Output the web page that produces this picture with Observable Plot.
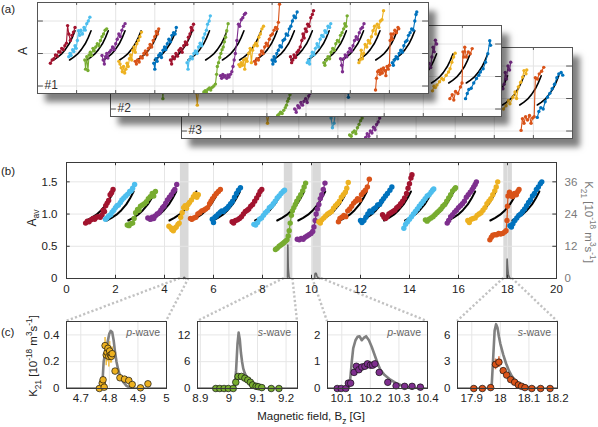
<!DOCTYPE html>
<html><head><meta charset="utf-8">
<script src="https://cdn.jsdelivr.net/npm/d3@7"></script>
<script src="https://cdn.jsdelivr.net/npm/@observablehq/plot@0.6"></script>
<style>
body{margin:0;background:#fff;}
#page{position:relative;width:598px;height:427px;overflow:hidden;font-family:"Liberation Sans",Arial,sans-serif;color:#222;}
.card{position:absolute;background:#fff;box-shadow:8px 9px 6px rgba(0,0,0,0.5);}
.card svg,.pl svg{display:block;overflow:visible;}
.pl{position:absolute;}
.lbl{position:absolute;white-space:nowrap;font-size:11.5px;line-height:1;}
.rot{transform:translate(-50%,-50%) rotate(-90deg);}
.rot90{transform:translate(-50%,-50%) rotate(90deg);}
sub,sup{font-size:0.72em;line-height:0;}
.wave{position:absolute;font-size:10.5px;color:#666;white-space:nowrap;transform:translate(-100%,0);}
</style></head><body><div id="page"></div>
<script>
// ---------- DATA ----------
const colorOrder = ["darkred","lightblue","green","purple","yellow","orange","blue"];
const colorHex = {darkred:"#A2142F", lightblue:"#4DBEEE", green:"#77AC30", purple:"#7E2F8E", yellow:"#EDB120", orange:"#D95319", blue:"#0072BD"};
const xTicks = [0,2,4,6,8,10,12,14,16,18,20];
const aTicks = [0.5,1.0,1.5];
const kTickLabels = [0,12,24,36];
const aTickValues = [0,0.5,1.0,1.5];

// theory curve template (offset in B, A value)
const blackDx = [0,0.2,0.4,0.6,0.8,0.95,1.1];
const blackA  = [0.9,0.94,0.99,1.06,1.15,1.24,1.35];
const blackStarts = [0.82,1.64,2.52,3.38,4.2,5.1,5.98,6.82,7.7,8.6,9.46,10.34,11.16,12.04,12.96,13.82,14.7,15.58,16.42,17.3,18.2];

// (b) averaged data, 21 segments
const bSegments = [
[[0.78,0.86],[0.85,0.89],[0.92,0.88],[1.0,0.91],[1.08,0.93],[1.15,0.92],[1.22,0.95],[1.3,0.96],[1.38,0.95],[1.45,0.99],[1.5,1.06],[1.55,1.04],[1.6,1.13],[1.66,1.17],[1.72,1.21],[1.78,1.3],[1.84,1.33],[1.9,1.38]],
[[1.59,0.92],[1.65,0.94],[1.72,0.97],[1.8,0.99],[1.86,1.03],[1.93,1.06],[2.0,1.1],[2.06,1.13],[2.12,1.14],[2.2,1.18],[2.26,1.22],[2.34,1.25],[2.42,1.28],[2.5,1.31],[2.58,1.35],[2.64,1.36],[2.7,1.4],[2.78,1.46]],
[[2.48,0.83],[2.55,0.82],[2.62,0.85],[2.7,0.86],[2.76,0.93],[2.82,1.02],[2.9,1.07],[2.96,1.06],[3.02,1.12],[3.1,1.14],[3.18,1.16],[3.26,1.19],[3.34,1.24],[3.42,1.27],[3.5,1.32],[3.56,1.28],[3.63,1.35]],
[[3.32,0.94],[3.38,0.93],[3.44,0.92],[3.5,0.95],[3.56,0.93],[3.62,0.97],[3.7,1.0],[3.78,1.02],[3.85,1.06],[3.92,1.1],[3.98,1.12],[4.05,1.17],[4.12,1.22],[4.2,1.26],[4.28,1.3],[4.36,1.35],[4.42,1.38],[4.5,1.46]],
[[4.18,0.81],[4.25,0.79],[4.3,0.76],[4.36,0.74],[4.42,0.78],[4.48,0.8],[4.55,0.84],[4.6,0.86],[4.66,0.95],[4.72,1.02],[4.78,1.1],[4.84,1.13],[4.9,1.09],[4.96,1.15],[5.02,1.18],[5.1,1.22],[5.18,1.27],[5.25,1.31],[5.32,1.26],[5.38,1.3]],
[[5.06,0.93],[5.12,0.92],[5.2,0.94],[5.28,0.95],[5.36,1.0],[5.44,1.02],[5.52,1.05],[5.6,1.06],[5.68,1.08],[5.76,1.1],[5.84,1.16],[5.9,1.2],[5.96,1.24],[6.04,1.28],[6.12,1.32],[6.2,1.35],[6.28,1.38]],
[[5.95,0.92],[6.0,0.87],[6.06,0.95],[6.12,0.97],[6.2,1.0],[6.28,1.03],[6.34,1.05],[6.4,1.04],[6.48,1.07],[6.55,1.09],[6.62,1.12],[6.7,1.16],[6.78,1.2],[6.86,1.26],[6.94,1.32],[7.02,1.37],[7.1,1.41]],
[[6.76,0.88],[6.82,0.86],[6.9,0.9],[6.98,0.91],[7.06,0.93],[7.14,0.96],[7.22,1.0],[7.3,1.04],[7.38,1.06],[7.44,1.08],[7.52,1.12],[7.6,1.15],[7.68,1.2],[7.76,1.25],[7.84,1.3],[7.9,1.35],[7.97,1.38]],
[[7.65,0.84],[7.72,0.83],[7.8,0.87],[7.88,0.92],[7.96,0.94],[8.04,0.98],[8.12,1.02],[8.2,1.05],[8.28,1.1],[8.36,1.12],[8.44,1.16],[8.52,1.2],[8.6,1.25],[8.68,1.28],[8.76,1.32],[8.84,1.35],[8.9,1.37]],
[[8.53,0.45],[8.6,0.47],[8.68,0.5],[8.75,0.52],[8.82,0.54],[8.88,0.56],[8.94,0.58],[9.0,0.6],[9.05,0.66],[9.09,0.74],[9.13,0.86],[9.18,0.98],[9.22,1.05],[9.28,1.1],[9.34,1.15],[9.4,1.2],[9.48,1.25],[9.56,1.3],[9.64,1.36],[9.7,1.42],[9.76,1.48]],
[[9.42,0.61],[9.5,0.6],[9.58,0.62],[9.66,0.61],[9.74,0.64],[9.82,0.66],[9.9,0.68],[9.98,0.7],[10.05,0.73],[10.1,0.8],[10.15,0.9],[10.19,1.0],[10.24,1.08],[10.3,1.15],[10.36,1.24],[10.42,1.3],[10.48,1.38],[10.55,1.48]],
[[10.3,0.88],[10.36,0.86],[10.42,0.91],[10.5,0.94],[10.58,0.97],[10.66,1.0],[10.74,1.02],[10.82,1.04],[10.9,1.09],[10.98,1.13],[11.06,1.16],[11.14,1.2],[11.22,1.26],[11.3,1.3],[11.38,1.34],[11.44,1.4],[11.5,1.49]],
[[11.1,0.88],[11.16,0.93],[11.24,0.95],[11.32,0.98],[11.4,0.96],[11.48,1.05],[11.56,1.08],[11.64,1.12],[11.72,1.17],[11.8,1.2],[11.88,1.24],[11.96,1.22],[12.04,1.3],[12.12,1.34],[12.2,1.37],[12.28,1.42],[12.36,1.54]],
[[12.0,0.9],[12.06,0.87],[12.14,0.9],[12.22,0.95],[12.3,1.0],[12.38,1.05],[12.46,1.03],[12.54,1.08],[12.62,1.1],[12.7,1.14],[12.78,1.15],[12.86,1.2],[12.94,1.24],[13.02,1.28],[13.1,1.32],[13.2,1.37],[13.28,1.42]],
[[12.9,0.99],[12.96,0.95],[13.02,0.93],[13.08,0.96],[13.16,1.0],[13.24,1.02],[13.32,1.04],[13.4,1.06],[13.48,1.1],[13.56,1.12],[13.64,1.16],[13.72,1.2],[13.8,1.25],[13.88,1.32],[13.94,1.4],[14.0,1.47],[14.06,1.56],[14.1,1.61]],
[[13.77,0.78],[13.84,0.84],[13.92,0.88],[14.0,0.92],[14.08,0.96],[14.16,1.0],[14.24,1.04],[14.32,1.08],[14.4,1.12],[14.48,1.16],[14.56,1.2],[14.64,1.24],[14.72,1.28],[14.8,1.3],[14.88,1.34],[14.94,1.37],[14.99,1.39]],
[[14.65,0.91],[14.72,0.89],[14.8,0.92],[14.88,0.94],[14.96,0.96],[15.04,0.99],[15.12,1.02],[15.2,1.05],[15.28,1.08],[15.36,1.12],[15.44,1.15],[15.52,1.2],[15.6,1.25],[15.68,1.3],[15.76,1.36],[15.84,1.39],[15.88,1.41]],
[[15.54,0.86],[15.6,0.9],[15.68,0.96],[15.76,0.99],[15.84,1.03],[15.92,1.06],[16.0,1.1],[16.08,1.13],[16.16,1.16],[16.24,1.2],[16.32,1.26],[16.4,1.3],[16.48,1.34],[16.56,1.38],[16.62,1.42],[16.68,1.46],[16.73,1.5]],
[[16.38,0.9],[16.44,0.87],[16.52,0.92],[16.6,0.93],[16.68,0.94],[16.76,0.98],[16.84,1.0],[16.92,1.02],[17.0,1.06],[17.08,1.1],[17.16,1.16],[17.24,1.2],[17.32,1.24],[17.4,1.3],[17.48,1.36],[17.54,1.42],[17.6,1.5]],
[[17.28,0.6],[17.34,0.64],[17.4,0.67],[17.48,0.68],[17.56,0.68],[17.64,0.7],[17.72,0.69],[17.8,0.7],[17.88,0.72],[17.94,0.74],[17.98,0.9],[18.0,1.12],[18.02,1.28],[18.08,1.34],[18.14,1.3],[18.2,1.27],[18.28,1.32],[18.36,1.3],[18.42,1.35],[18.47,1.38]],
[[18.1,0.82],[18.16,0.8],[18.22,0.85],[18.3,0.9],[18.38,0.94],[18.46,0.98],[18.54,1.0],[18.62,1.04],[18.7,1.08],[18.78,1.13],[18.86,1.18],[18.94,1.22],[19.02,1.28],[19.1,1.32],[19.18,1.38],[19.26,1.42],[19.34,1.47],[19.4,1.5]]
];

// (a) card #1, 21 segments
const card1Segments = [
[[0.66,0.85],[0.75,0.9],[0.84,0.92],[0.92,0.98],[1.0,0.96],[1.08,1.03],[1.16,1.02],[1.24,1.08],[1.32,1.06],[1.4,1.12],[1.48,1.16],[1.54,1.43],[1.6,1.3],[1.68,1.2],[1.76,1.28],[1.84,1.33],[1.92,1.4]],
[[1.6,0.95],[1.66,1.0],[1.72,0.97],[1.8,1.06],[1.86,1.03],[1.92,1.12],[1.98,1.08],[2.04,1.2],[2.1,1.35],[2.16,1.28],[2.22,1.36],[2.3,1.3],[2.38,1.4],[2.44,1.36],[2.52,1.46],[2.6,1.5],[2.68,1.56]],
[[2.42,0.9],[2.46,0.76],[2.52,0.95],[2.58,0.74],[2.64,0.98],[2.7,1.02],[2.76,0.97],[2.84,1.08],[2.9,1.04],[2.98,1.1],[3.06,1.15],[3.14,1.12],[3.22,1.2],[3.3,1.26],[3.38,1.3],[3.46,1.36],[3.54,1.38]],
[[3.3,0.97],[3.36,0.9],[3.42,0.84],[3.48,0.95],[3.54,1.0],[3.6,0.93],[3.68,1.02],[3.76,1.05],[3.84,1.1],[3.92,1.06],[4.0,1.15],[4.08,1.22],[4.16,1.3],[4.24,1.26],[4.32,1.36],[4.4,1.42],[4.48,1.46]],
[[4.16,0.88],[4.22,0.84],[4.28,0.78],[4.34,0.72],[4.4,0.8],[4.46,0.7],[4.52,0.76],[4.58,0.85],[4.64,0.8],[4.7,0.92],[4.76,0.98],[4.82,0.9],[4.88,1.05],[4.94,1.1],[5.0,1.02],[5.08,1.15],[5.16,1.2],[5.24,1.26],[5.32,1.33]],
[[5.0,0.88],[5.06,0.84],[5.12,0.9],[5.2,0.87],[5.28,0.95],[5.36,0.93],[5.44,1.0],[5.52,1.04],[5.6,0.98],[5.68,1.08],[5.76,1.14],[5.84,1.1],[5.92,1.2],[6.0,1.26],[6.08,1.34],[6.14,1.3],[6.2,1.38]],
[[5.95,0.85],[6.0,0.76],[6.06,0.92],[6.12,0.88],[6.2,0.97],[6.28,1.0],[6.34,0.94],[6.42,1.05],[6.5,1.1],[6.56,1.06],[6.64,1.15],[6.72,1.22],[6.8,1.18],[6.88,1.28],[6.96,1.32],[7.04,1.3],[7.1,1.4]],
[[6.8,0.9],[6.86,0.84],[6.92,0.95],[7.0,0.92],[7.08,1.0],[7.16,0.96],[7.24,1.05],[7.32,1.08],[7.4,1.02],[7.48,1.12],[7.56,1.18],[7.64,1.14],[7.72,1.25],[7.8,1.3],[7.86,1.4],[7.92,1.36],[7.98,1.45]],
[[7.65,0.86],[7.7,0.76],[7.76,0.9],[7.84,0.95],[7.92,0.92],[8.0,1.0],[8.08,1.04],[8.16,1.0],[8.24,1.1],[8.32,1.16],[8.4,1.12],[8.48,1.24],[8.56,1.3],[8.64,1.36],[8.7,1.45],[8.78,1.5],[8.84,1.58]],
[[8.51,0.41],[8.58,0.43],[8.64,0.41],[8.72,0.45],[8.8,0.47],[8.86,0.44],[8.94,0.48],[9.02,0.5],[9.1,0.53],[9.16,0.68],[9.2,0.8],[9.26,0.86],[9.32,0.94],[9.38,1.0],[9.44,1.06],[9.5,1.1],[9.56,1.18],[9.62,1.25],[9.68,1.35],[9.75,1.46]],
[[9.36,0.66],[9.42,0.62],[9.48,0.68],[9.54,0.64],[9.6,0.66],[9.68,0.62],[9.74,0.67],[9.8,0.64],[9.87,0.68],[9.94,0.72],[10.0,0.8],[10.06,0.9],[10.12,1.0],[10.2,1.2],[10.28,1.45],[10.34,1.42],[10.42,1.52],[10.5,1.55],[10.58,1.6],[10.64,1.62]],
[[10.3,0.83],[10.36,0.8],[10.42,0.86],[10.48,0.82],[10.54,0.9],[10.6,0.76],[10.66,0.92],[10.72,0.88],[10.8,1.0],[10.88,1.08],[10.94,0.86],[11.0,1.05],[11.08,1.12],[11.16,1.16],[11.24,1.12],[11.32,1.25],[11.4,1.3],[11.48,1.38],[11.56,1.42]],
[[11.1,0.88],[11.16,0.84],[11.22,0.92],[11.3,0.9],[11.38,0.98],[11.46,1.04],[11.54,1.0],[11.62,1.1],[11.7,1.16],[11.78,1.12],[11.86,1.22],[11.94,1.28],[12.02,1.3],[12.1,1.36],[12.18,1.4],[12.26,1.38],[12.32,1.48],[12.38,1.76]],
[[12.0,0.9],[12.04,0.84],[12.1,0.95],[12.16,0.88],[12.24,1.0],[12.32,1.05],[12.4,1.12],[12.48,1.1],[12.56,1.2],[12.64,1.22],[12.72,1.3],[12.8,1.28],[12.88,1.38],[12.96,1.42],[13.04,1.5],[13.12,1.58],[13.2,1.55],[13.28,1.64]],
[[12.94,0.95],[13.0,0.86],[13.06,0.9],[13.12,0.98],[13.2,0.94],[13.28,1.02],[13.36,1.05],[13.44,1.1],[13.52,1.2],[13.58,1.3],[13.64,1.24],[13.7,1.38],[13.76,1.34],[13.82,1.45],[13.9,1.42],[13.98,1.55],[14.06,1.6],[14.12,1.66]],
[[13.8,0.86],[13.86,0.9],[13.92,0.84],[14.0,0.96],[14.06,1.02],[14.14,0.98],[14.22,1.08],[14.3,1.15],[14.38,1.1],[14.46,1.22],[14.54,1.28],[14.62,1.26],[14.7,1.35],[14.78,1.32],[14.86,1.42],[14.94,1.4],[15.0,1.46]],
[[14.65,0.86],[14.7,0.82],[14.78,0.9],[14.86,0.95],[14.94,0.92],[15.02,1.02],[15.1,1.08],[15.18,1.05],[15.26,1.15],[15.34,1.2],[15.42,1.18],[15.5,1.28],[15.58,1.32],[15.66,1.38],[15.72,1.46],[15.78,1.42],[15.84,1.58]],
[[15.5,0.92],[15.56,0.82],[15.6,0.72],[15.66,0.92],[15.74,0.98],[15.82,0.95],[15.9,1.02],[15.98,1.08],[16.06,1.04],[16.14,1.12],[16.22,1.2],[16.3,1.26],[16.38,1.22],[16.46,1.32],[16.54,1.38],[16.62,1.4],[16.7,1.46]],
[[16.44,0.86],[16.5,0.9],[16.56,1.05],[16.62,0.92],[16.68,1.0],[16.76,1.14],[16.84,1.1],[16.92,1.2],[17.0,1.16],[17.08,1.26],[17.16,1.35],[17.24,1.42],[17.3,1.3],[17.38,1.45],[17.46,1.4],[17.54,1.5],[17.62,1.52],[17.7,1.66]],
[[17.29,0.44],[17.34,0.62],[17.4,0.72],[17.46,0.74],[17.52,0.68],[17.58,0.76],[17.64,0.7],[17.7,0.78],[17.76,0.74],[17.82,0.66],[17.88,0.8],[17.94,0.76],[18.0,0.82],[18.04,1.2],[18.08,1.3],[18.14,1.22],[18.2,1.3],[18.28,1.36],[18.36,1.32],[18.44,1.4],[18.48,1.38]],
[[18.15,0.86],[18.2,0.82],[18.26,0.9],[18.34,0.95],[18.42,0.92],[18.5,1.0],[18.58,1.05],[18.66,1.02],[18.74,1.12],[18.82,1.18],[18.9,1.2],[18.98,1.28],[19.06,1.32],[19.14,1.38],[19.22,1.36],[19.3,1.5],[19.36,1.6],[19.4,1.64]]
];

// (a) card #2 (only the parts that show)
const card2Colors = ["green","yellow","green","purple","blue","purple","yellow","orange","blue"];
const card2Segments = [
[[2.5,0.95],[2.6,1.0],[2.68,0.66],[2.76,1.05],[2.9,1.1],[3.1,1.2],[3.3,1.3],[3.5,1.4]],
[[4.2,0.9],[4.3,0.85],[4.38,0.75],[4.44,0.56],[4.5,0.8],[4.6,0.9],[4.8,1.0],[5.0,1.1],[5.2,1.2],[5.4,1.35]],
[[8.55,0.4],[8.62,0.42],[8.7,0.45],[8.78,0.43],[8.86,0.48],[8.94,0.52],[9.0,0.56],[9.06,0.62],[9.12,0.66],[9.18,0.72],[9.26,0.9],[9.4,1.05],[9.6,1.25],[9.76,1.45]],
[[9.42,0.5],[9.5,0.45],[9.58,0.55],[9.66,0.52],[9.74,0.6],[9.82,0.56],[9.9,0.62],[9.98,0.66],[10.06,0.6],[10.14,0.7],[10.2,0.74],[10.26,0.95],[10.34,1.15],[10.46,1.35],[10.6,1.5]],
[[12.0,0.9],[12.1,0.85],[12.17,0.68],[12.24,0.95],[12.4,1.05],[12.6,1.15],[12.8,1.25],[13.0,1.35],[13.3,1.45]],
[[15.5,0.9],[15.7,1.0],[15.9,1.05],[16.1,1.1],[16.3,1.2],[16.38,1.14],[16.44,1.3],[16.5,1.45],[16.56,1.38],[16.62,1.56],[16.68,1.5]],
[[16.47,0.78],[16.55,0.85],[16.62,0.83],[16.7,0.87],[16.83,0.92],[16.95,0.97],[17.03,0.95],[17.17,1.02],[17.29,1.07],[17.37,1.12],[17.46,1.22],[17.55,1.3],[17.63,1.36]],
[[17.36,0.66],[17.48,0.72],[17.56,0.64],[17.65,0.77],[17.77,0.74],[17.9,0.84],[17.98,0.9],[18.03,1.38],[18.07,1.3],[18.12,1.45],[18.2,1.3],[18.3,1.38],[18.4,1.35],[18.5,1.43]],
[[18.16,0.66],[18.25,0.74],[18.33,0.8],[18.45,0.82],[18.58,0.9],[18.72,0.97],[18.84,1.02],[18.92,1.07],[19.06,1.12],[19.18,1.22],[19.3,1.35],[19.4,1.55],[19.44,1.48]]
];

// (a) card #3 (only the parts that show)
const card3Colors = ["yellow","lightblue","green","purple","purple","yellow","orange","blue"];
const card3Segments = [
[[4.2,0.9],[4.3,0.85],[4.4,0.62],[4.5,0.82],[4.7,0.95],[5.0,1.1],[5.3,1.3]],
[[7.65,0.7],[7.72,0.55],[7.8,0.62],[7.88,0.8],[8.0,0.92],[8.2,1.0],[8.4,1.1],[8.6,1.22],[8.8,1.35]],
[[8.6,0.44],[8.68,0.42],[8.76,0.48],[8.84,0.5],[8.92,0.46],[9.0,0.55],[9.08,0.6],[9.16,0.66],[9.24,0.7],[9.3,0.9],[9.5,1.15],[9.76,1.45]],
[[9.42,0.4],[9.5,0.46],[9.58,0.42],[9.66,0.5],[9.74,0.47],[9.82,0.56],[9.9,0.52],[9.98,0.6],[10.06,0.64],[10.14,0.7],[10.22,0.76],[10.3,0.95],[10.45,1.25],[10.6,1.5]],
[[15.5,0.9],[15.9,1.0],[16.2,1.1],[16.44,1.15],[16.5,1.22],[16.56,1.4],[16.62,1.3],[16.7,1.5],[16.78,1.44],[16.84,1.56]],
[[16.47,0.84],[16.6,0.89],[16.72,0.97],[16.8,0.92],[16.95,1.02],[17.06,1.1],[17.14,1.0],[17.23,1.18],[17.35,1.25],[17.45,1.33],[17.52,1.43],[17.62,1.38],[17.66,1.44]],
[[17.37,0.51],[17.44,0.69],[17.52,0.62],[17.6,0.72],[17.7,0.67],[17.8,0.74],[17.88,0.62],[17.96,0.7],[18.04,0.72],[18.1,1.32],[18.2,1.3],[18.3,1.38],[18.42,1.42],[18.53,1.48]],
[[18.2,0.71],[18.28,0.8],[18.38,0.86],[18.5,0.84],[18.6,0.95],[18.72,1.02],[18.84,1.08],[18.96,1.15],[19.08,1.22],[19.2,1.32],[19.3,1.38],[19.42,1.4],[19.5,1.36]]
];

// (c) zoom windows (also grey bands in (b))
const bandStart = [4.65, 8.89, 10.05, 17.85];
const bandEnd   = [5.0, 9.24, 10.4, 18.2];
const waveLabels = ["p","s","p","s"];
const cColors = ["yellow","green","purple","orange"];
const cYDomains = [[0,0.5],[0,15],[0,2.5],[0,7.5]];
const cYTicks = [[0,0.2,0.4],[0,6,12],[0,1,2],[0,3,6]];
const cXTicks = [[4.7,4.8,4.9,5],[8.9,9,9.1,9.2],[10.1,10.2,10.3,10.4],[17.9,18,18.1,18.2]];

// measured K21: [B, K21, error]
const c1Points = [[4.765,0.0,0],[4.775,0.04,0.01],[4.778,0.065,0.02],[4.782,0.01,0.01],[4.785,0.32,0.06],[4.789,0.25,0.08],[4.792,0.27,0.07],[4.795,0.3,0.06],[4.798,0.24,0.08],[4.801,0.28,0.07],[4.804,0.25,0.06],[4.807,0.24,0.05],[4.81,0.26,0.05],[4.82,0.13,0.02],[4.837,0.08,0.01],[4.853,0.07,0.01],[4.868,0.06,0.01],[4.88,0.03,0.01],[4.909,0.005,0],[4.935,0.035,0]];
const c2Points = [[8.954,0,0],[8.968,0,0],[8.983,0,0],[8.998,0,0],[9.015,0,0],[9.024,1.4,0.3],[9.032,2.7,0.4],[9.044,2.7,0.4],[9.056,2.3,0.3],[9.066,1.9,0.3],[9.075,1.4,0.2],[9.083,0.8,0.2],[9.095,0.5,0.1],[9.103,0.4,0.1],[9.115,0.2,0.1],[9.148,0,0],[9.175,0,0]];
const c3Points = [[10.084,0,0],[10.098,0,0],[10.114,0,0],[10.123,0.2,0.03],[10.131,0.2,0.03],[10.143,0.6,0.05],[10.151,0.83,0.06],[10.16,0.7,0.05],[10.17,0.8,0.05],[10.181,0.83,0.05],[10.19,0.92,0.06],[10.2,0.87,0.05],[10.208,0.87,0.05],[10.216,0.92,0.05],[10.231,0.6,0.04],[10.261,0.23,0.03],[10.29,0.1,0.02],[10.32,0.08,0.02],[10.346,0.08,0.02],[10.375,0.05,0.01]];
const c4Points = [[17.907,0,0],[17.937,0,0],[17.966,0.1,0.05],[17.983,2.7,0.6],[17.995,2.95,0.6],[18.01,2.0,0.3],[18.022,1.5,0.2],[18.036,1.0,0.15],[18.05,0.7,0.1],[18.063,0.4,0.1],[18.074,0.25,0.05],[18.086,0.1,0.05],[18.11,0,0],[18.141,0,0],[18.174,0,0]];

// theory K21: [B, K21]
const c1Theory = [[4.65,0],[4.77,0],[4.775,0.01],[4.78,0.2],[4.785,0.26],[4.79,0.3],[4.795,0.36],[4.8,0.41],[4.805,0.43],[4.81,0.42],[4.815,0.36],[4.82,0.27],[4.825,0.2],[4.83,0.15],[4.835,0.11],[4.84,0.08],[4.85,0.045],[4.86,0.02],[4.87,0.008],[4.88,0],[5.0,0]];
const c2Theory = [[8.89,0],[9.015,0],[9.02,0.5],[9.025,4],[9.03,10],[9.034,12.5],[9.038,11],[9.042,8],[9.046,6],[9.05,4.5],[9.055,3.5],[9.06,2.8],[9.07,1.8],[9.08,1.1],[9.09,0.6],[9.1,0.3],[9.11,0.1],[9.12,0],[9.24,0]];
const c3Theory = [[10.05,0],[10.12,0],[10.125,0.05],[10.13,0.4],[10.135,1.0],[10.14,1.5],[10.148,1.8],[10.155,1.93],[10.162,1.95],[10.17,1.8],[10.178,1.9],[10.185,1.95],[10.195,1.8],[10.205,1.55],[10.215,1.25],[10.225,0.95],[10.235,0.7],[10.25,0.5],[10.27,0.33],[10.29,0.2],[10.31,0.11],[10.33,0.05],[10.35,0.02],[10.4,0]];
const c4Theory = [[17.85,0],[17.965,0],[17.97,0.5],[17.975,3.5],[17.98,6.5],[17.985,7.2],[17.99,6.8],[17.995,5.8],[18.0,5.0],[18.01,3.8],[18.02,2.8],[18.03,2.0],[18.04,1.4],[18.05,1.0],[18.06,0.7],[18.075,0.4],[18.09,0.2],[18.11,0.08],[18.13,0.02],[18.2,0]];
const kPerA = 24; // right axis of (b): K21 = 24 * A_av

// ---------- DRAWING ----------
const page = document.getElementById("page");
const FONT = '"Liberation Sans", Arial, sans-serif';
const cPoints = [c1Points,c2Points,c3Points,c4Points];
const cTheory = [c1Theory,c2Theory,c3Theory,c4Theory];

function segRows(segs, colors){
  const rows=[];
  segs.forEach((s,i)=>s.forEach(([x,y])=>rows.push({x,y,id:i,c:colorHex[colors[i]]})));
  return rows;
}
function blackRows(){
  const rows=[];
  blackStarts.forEach((s,i)=>blackDx.forEach((d,j)=>rows.push({x:s+d,y:blackA[j],id:i})));
  return rows;
}
const cycleColors = bSegments.map((_,i)=>colorOrder[i%7]);

function place(el, cls, left, top, w, h, z){
  const d=document.createElement("div"); d.className=cls;
  d.style.left=left+"px"; d.style.top=top+"px";
  if(w){d.style.width=w+"px"; d.style.height=h+"px";}
  if(z) d.style.zIndex=z;
  d.appendChild(el); page.appendChild(d); return d;
}

function makeCard(segs, colors, label){
  const rows = segRows(segs, colors);
  return Plot.plot({
    width:391, height:91, margin:0,
    x:{domain:[0,20], axis:null}, y:{domain:[0.385,1.785], axis:null}, color:{type:"identity"},
    style:{background:"#fff", fontFamily:FONT, fontSize:"12px"},
    marks:[
      Plot.gridX(xTicks,{stroke:"#e4e4e4", strokeOpacity:1}),
      Plot.gridY(aTicks,{stroke:"#e4e4e4", strokeOpacity:1}),
      Plot.line(blackRows(),{x:"x",y:"y",z:"id",stroke:"#000",strokeWidth:1.6,clip:true}),
      Plot.line(rows,{x:"x",y:"y",z:"id",stroke:"c",strokeWidth:1.1,clip:true}),
      Plot.dot(rows,{x:"x",y:"y",fill:"c",r:1.7,clip:true}),
      Plot.ruleY(aTicks,{x1:0,x2:0.3,stroke:"#555"}),
      Plot.ruleY(aTicks,{x1:19.7,x2:20,stroke:"#555"}),
      Plot.ruleX(xTicks,{y1:1.785,y2:1.74,stroke:"#555"}),
      Plot.ruleX(xTicks,{y1:0.385,y2:0.43,stroke:"#555"}),
      Plot.text([label],{text:d=>d,frameAnchor:"bottom-left",textAnchor:"start",dx:7,dy:-5,fill:"#333",fontSize:12}),
      Plot.frame({stroke:"#555"})
    ]
  });
}
place(makeCard(card3Segments, card3Colors, "#3"), "card", 181, 47, 391, 91, 1);
place(makeCard(card2Segments, card2Colors, "#2"), "card", 110, 25, 391, 91, 2);
place(makeCard(card1Segments, cycleColors, "#1"), "card", 37, 2, 391, 91, 3);

// (b)
const bRows = segRows(bSegments, cycleColors);
const bTheory = [];
cTheory.forEach((t,i)=>t.forEach(([x,k])=>{ if(k>0) bTheory.push({x,k,id:i}); }));
const bands = bandStart.map((s,i)=>({s,e:bandEnd[i]}));
const bPlot = Plot.plot({
  width:598, height:150, marginLeft:66, marginRight:42, marginTop:12, marginBottom:22,
  x:{domain:[0,20]}, y:{domain:[0,1.8]}, color:{type:"identity"},
  style:{background:"transparent", fontFamily:FONT, fontSize:"11.5px", color:"#222"},
  marks:[
    Plot.rect(bands,{x1:"s",x2:"e",y1:0,y2:1.8,fill:"#d9d9d9"}),
    Plot.gridX(xTicks,{stroke:"#e6e6e6",strokeOpacity:1}),
    Plot.gridY(aTicks,{stroke:"#e6e6e6",strokeOpacity:1}),
    Plot.line(bTheory,{x:"x",y:d=>d.k/kPerA,z:"id",stroke:"#6a6a6a",strokeWidth:1.6}),
    Plot.line(blackRows(),{x:"x",y:"y",z:"id",stroke:"#000",strokeWidth:2}),
    Plot.line(bRows,{x:"x",y:"y",z:"id",stroke:"c",strokeWidth:1.2}),
    Plot.dot(bRows,{x:"x",y:"y",fill:"c",r:2.7}),
    Plot.ruleX(xTicks,{y1:1.8,y2:1.75,stroke:"#333"}),
    Plot.ruleX(xTicks,{y1:0,y2:0.05,stroke:"#333"}),
    Plot.ruleY(aTickValues,{x1:0,x2:0.15,stroke:"#333"}),
    Plot.ruleY(aTickValues,{x1:19.85,x2:20,stroke:"#333"}),
    Plot.axisX({ticks:xTicks,tickSize:0,tickPadding:6,label:null}),
    Plot.axisY({ticks:aTickValues,tickSize:0,tickPadding:9,label:null,tickFormat:d=>d===0?"0":d3.format(".1f")(d)}),
    Plot.axisY({anchor:"right",ticks:aTickValues,tickSize:0,tickPadding:8,label:null,color:"#7a7a7a",fill:"#7a7a7a",tickFormat:(d,i)=>String(kTickLabels[i])}),
    Plot.frame({stroke:"#3a3a3a"})
  ]
});
place(bPlot, "pl", 0, 150, 0, 0, 5);

// connectors
const xb = bPlot.scale("x");
const cLeft = [66,197,327,457], cTop = 321, cW = 100, cH = 67, bBottom = 278;
const svg = d3.create("svg").attr("width",598).attr("height",427);
bandStart.forEach((s,i)=>{
  [[s,cLeft[i]],[bandEnd[i],cLeft[i]+cW]].forEach(([v,tx])=>{
    svg.append("line").attr("x1",xb.apply(v)).attr("y1",bBottom).attr("x2",tx).attr("y2",cTop)
      .attr("stroke","#c2c2c2").attr("stroke-width",2.4).attr("stroke-dasharray","2.2 2.2");
  });
});
place(svg.node(), "pl", 0, 0, 0, 0, 4);

// (c)
cPoints.forEach((pts,i)=>{
  const col = colorHex[cColors[i]];
  const p = Plot.plot({
    width:134, height:90, marginLeft:31, marginRight:3, marginTop:4, marginBottom:19,
    x:{domain:[bandStart[i],bandEnd[i]]}, y:{domain:cYDomains[i]},
    style:{background:"transparent", fontFamily:FONT, fontSize:"11.5px", color:"#222"},
    marks:[
      Plot.gridX(cXTicks[i],{stroke:"#e6e6e6",strokeOpacity:1}),
      Plot.gridY(cYTicks[i],{stroke:"#e6e6e6",strokeOpacity:1}),
      Plot.ruleX(pts.filter(d=>d[2]>0),{x:d=>d[0],y1:d=>d[1]-d[2],y2:d=>d[1]+d[2],stroke:col,strokeWidth:1.6,strokeOpacity:0.8}),
      Plot.line(cTheory[i],{x:d=>d[0],y:d=>d[1],stroke:"#808080",strokeWidth:2.6,clip:true}),
      Plot.dot(pts,{x:d=>d[0],y:d=>d[1],r:3.3,fill:col,stroke:"#111",strokeWidth:0.7}),
      Plot.axisX({ticks:cXTicks[i],tickSize:0,tickPadding:5,label:null,tickFormat:d3.format("~g")}),
      Plot.axisY({ticks:cYTicks[i],tickSize:0,tickPadding:7,label:null,tickFormat:d3.format("~g")}),
      Plot.frame({stroke:"#3a3a3a"})
    ]
  });
  place(p, "pl", cLeft[i]-31, cTop-4, 0, 0, 5);
  const w = document.createElement("div"); w.className="wave";
  w.innerHTML = "<i>"+waveLabels[i]+"</i>-wave";
  w.style.left=(cLeft[i]+cW-6)+"px"; w.style.top=(cTop+5)+"px"; w.style.zIndex=6;
  page.appendChild(w);
});

// text labels
function label(html, x, y, cls, extra){
  const d=document.createElement("div"); d.className="lbl "+(cls||"");
  d.innerHTML=html; d.style.left=x+"px"; d.style.top=y+"px"; d.style.zIndex=7;
  if(extra) Object.assign(d.style, extra);
  page.appendChild(d);
}
label("(a)", 1, 4);
label("(b)", 1, 166);
label("(c)", 1, 327);
label("A", 23, 51, "rot", {fontSize:"12px"});
label("A<sub>av</sub>", 32, 218, "rot", {fontSize:"12px"});
label("K<sub>21</sub> [10<sup>-18</sup> m<sup>3</sup>s<sup>-1</sup>]", 588, 222, "rot90", {color:"#7a7a7a", fontSize:"11.5px"});
label("K<sub>21</sub> [10<sup>-18</sup> m<sup>3</sup>s<sup>-1</sup>]", 34, 356, "rot", {fontSize:"11.5px"});
label("Magnetic field, B<sub>z</sub> [G]", 311, 417, "", {transform:"translate(-50%,-50%)"});
</script></body></html>
